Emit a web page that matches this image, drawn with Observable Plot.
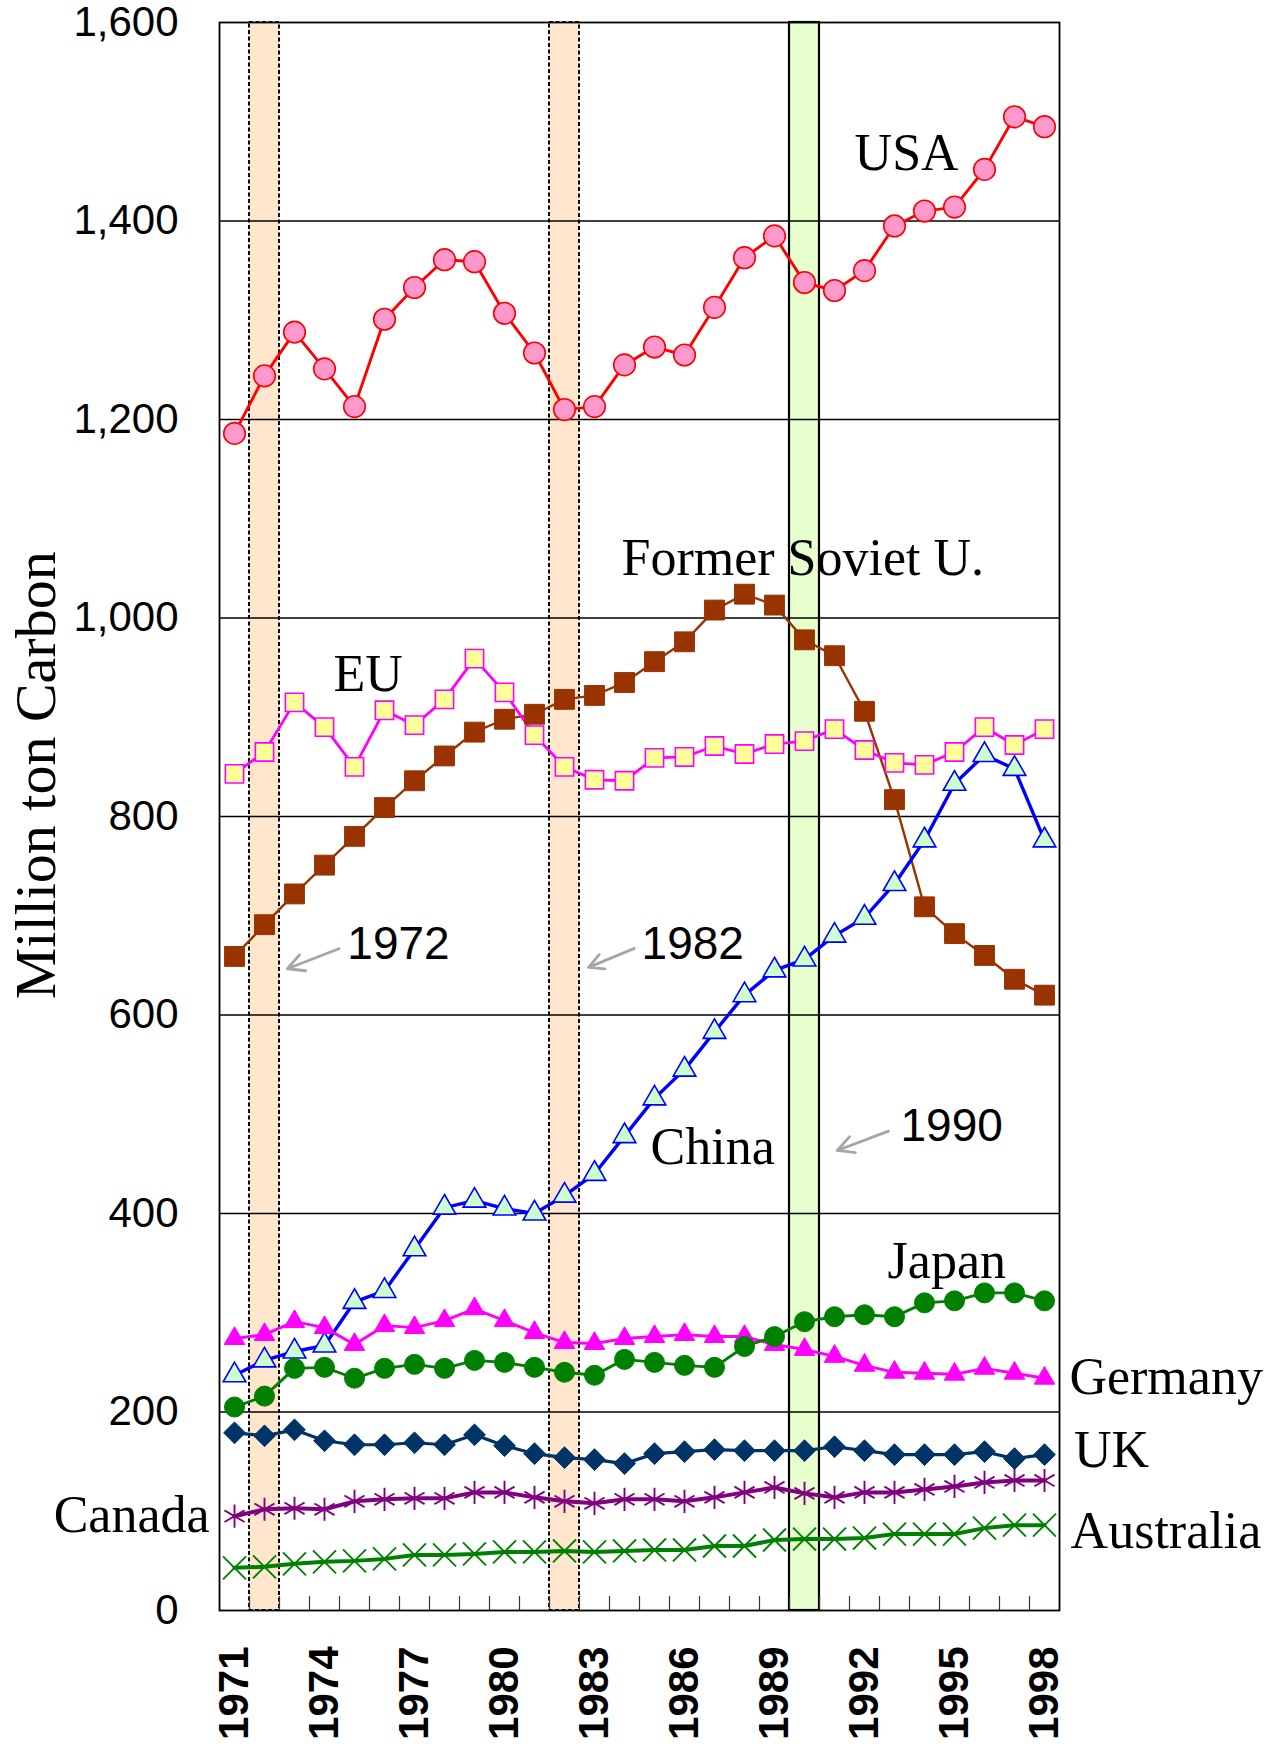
<!DOCTYPE html>
<html><head><meta charset="utf-8">
<script src="https://cdn.jsdelivr.net/npm/d3@7"></script>
<script src="https://cdn.jsdelivr.net/npm/@observablehq/plot@0.6"></script>
<style>body{margin:0;background:#fff}</style>
</head><body><div id="chart"></div>
<script>
// ---------- data ----------
const years = d3.range(1971, 1999);
const usa       = [1186,1244,1288,1251,1213,1301,1333,1361,1359,1307,1267,1210,1213,1255,1273,1265,1313,1363,1385,1338,1330,1350,1395,1410,1414,1452,1505,1495];
const fsu       = [659,691,722,751,780,809,836,861,885,898,903,918,922,935,956,976,1008,1024,1013,978,962,906,817,709,682,660,636,620];
const eu        = [843,865,915,890,850,907,892,918,959,925,882,850,837,836,859,860,871,863,873,876,888,867,854,852,865,890,872,888];
const china     = [237,252,261,267,311,322,364,406,413,405,400,418,440,478,516,545,583,620,645,656,680,698,732,776,833,862,848,776];
const germany   = [274,278,291,285,268,287,285,292,304,292,280,270,269,274,276,278,276,276,268,263,256,247,240,239,238,244,239,234];
const japan     = [205,216,244,245,234,244,248,244,252,250,245,240,237,253,250,247,245,266,276,291,296,298,296,310,312,320,320,312];
const uk        = [179,176,182,171,167,167,169,167,177,166,158,154,152,148,158,160,162,161,161,161,165,161,157,157,157,160,153,157];
const canada    = [95,102,103,102,110,112,113,113,119,119,114,110,108,112,112,110,114,119,124,118,114,119,119,122,125,129,131,131];
const australia = [43,44,47,49,50,52,56,56,57,59,59,60,59,60,61,61,65,65,71,72,72,73,77,77,77,83,86,86];

const yTicks = [0,200,400,600,800,1000,1200,1400,1600];
const xTickLabels = [1971,1974,1977,1980,1983,1986,1989,1992,1995,1998];
const shockYears = [1972, 1982];
const kyotoYears = [1990];

// label anchors (data space: year, value)
const seriesLabels = [
  {text: "USA", year: 1991.67, value: 1451, anchor: "start"},
  {text: "Former Soviet U.", year: 1983.9, value: 1043, anchor: "start"},
  {text: "EU", year: 1974.3, value: 926, anchor: "start"},
  {text: "China", year: 1984.87, value: 449.5, anchor: "start"},
  {text: "Japan", year: 1992.77, value: 335, anchor: "start"},
  {text: "Germany", year: 1998.83, value: 218.6, anchor: "start"},
  {text: "UK", year: 1998.98, value: 144.4, anchor: "start"},
  {text: "Canada", year: 1970.17, value: 78.6, anchor: "end"},
  {text: "Australia", year: 1998.87, value: 62.5, anchor: "start"}
];
const yearNotes = [
  {text: "1972", year: 1974.76, value: 656.8},
  {text: "1982", year: 1984.57, value: 656.6},
  {text: "1990", year: 1993.2, value: 472.6}
];
const noteArrows = [
  {x1: 1974.48, y1: 666.8, x2: 1972.76, y2: 646.6},
  {x1: 1984.33, y1: 667.1, x2: 1982.8, y2: 648.0},
  {x1: 1992.8, y1: 483.0, x2: 1991.09, y2: 463.5}
];

// ---------- styles ----------
const series = [
  {name: "FSU", values: fsu, line: "#993300", lw: 2.4, symbol: "square", r: 11.2, fill: "#993300", stroke: "#993300", sw: 1},
  {name: "EU", values: eu, line: "#FF00FF", lw: 2.8, symbol: "square", r: 10.3, fill: "#FFFF99", stroke: "#FF00FF", sw: 1.6},
  {name: "USA", values: usa, line: "#FF0000", lw: 2.9, symbol: "circle", r: 10.8, fill: "#FF99CC", stroke: "#FF0000", sw: 1.6},
  {name: "China", values: china, line: "#0000FF", lw: 3.4, symbol: "triangle", r: 8.4, fill: "#CCFFCC", stroke: "#0000FF", sw: 1.6},
  {name: "Germany", values: germany, line: "#FF00FF", lw: 2.9, symbol: "triangle", r: 7.6, fill: "#FF00FF", stroke: "#FF00FF", sw: 1},
  {name: "Japan", values: japan, line: "#008000", lw: 2.9, symbol: "circle", r: 10, fill: "#008000", stroke: "#008000", sw: 1},
  {name: "UK", values: uk, line: "#003366", lw: 3.2, symbol: "diamond2", r: 9.8, fill: "#003366", stroke: "#003366", sw: 1},
  {name: "Canada", values: canada, line: "#800080", lw: 4, symbol: "asterisk", r: 11, fill: "none", stroke: "#800080", sw: 1.9},
  {name: "Australia", values: australia, line: "#008000", lw: 4, symbol: "times", r: 10.5, fill: "none", stroke: "#008000", sw: 1.9}
];

const W = 1285, H = 1744;
const mL = 219, mR = 226, mT = 22, mB = 134;
const yMax = yTicks[yTicks.length - 1];
const pxPerUnit = (H - mT - mB) / yMax;
const tickLen = 14 / pxPerUnit;
const halfYears = d3.range(years[0] + 0.5, years[years.length - 1], 1);

const sans = "'Liberation Sans', Arial, Helvetica, sans-serif";
const serif = "'Liberation Serif', 'Times New Roman', serif";

const marks = [];
// shaded years
marks.push(Plot.rect(shockYears, {x1: d => d - 0.5, x2: d => d + 0.5, y1: 0, y2: yMax, fill: "#FFE6CC"}));
marks.push(Plot.rect(kyotoYears, {x1: d => d - 0.5, x2: d => d + 0.5, y1: 0, y2: yMax, fill: "#E6FFCC"}));
// grid
marks.push(Plot.ruleY(yTicks.slice(1, -1), {stroke: "#000", strokeWidth: 1.4}));
// band borders
marks.push(Plot.rect(shockYears, {x1: d => d - 0.5, x2: d => d + 0.5, y1: 0, y2: yMax, fill: "none", stroke: "#000", strokeWidth: 2, strokeDasharray: "4,2.5"}));
marks.push(Plot.rect(kyotoYears, {x1: d => d - 0.5, x2: d => d + 0.5, y1: 0, y2: yMax, fill: "none", stroke: "#000", strokeWidth: 2.2}));
// inner ticks at bottom
marks.push(Plot.ruleX(halfYears, {y1: 0, y2: tickLen, stroke: "#333", strokeWidth: 1.2}));
marks.push(Plot.frame({stroke: "#000", strokeWidth: 1.8}));

// series
for (const s of series) {
  const data = years.map((yr, i) => ({year: yr, value: s.values[i]}));
  marks.push(Plot.line(data, {x: "year", y: "value", stroke: s.line, strokeWidth: s.lw}));
}
for (const s of series) {
  const data = years.map((yr, i) => ({year: yr, value: s.values[i]}));
  marks.push(Plot.dot(data, {x: "year", y: "value", symbol: () => s.symbol, r: s.r, fill: s.fill, stroke: s.stroke, strokeWidth: s.sw}));
}

// labels
marks.push(Plot.text(seriesLabels.filter(d => d.anchor === "start"), {x: "year", y: "value", text: "text", textAnchor: "start", lineAnchor: "bottom", fontSize: 52, fontFamily: serif, fill: "#000"}));
marks.push(Plot.text(seriesLabels.filter(d => d.anchor === "end"), {x: "year", y: "value", text: "text", textAnchor: "end", lineAnchor: "bottom", fontSize: 52, fontFamily: serif, fill: "#000"}));
marks.push(Plot.text(yearNotes, {x: "year", y: "value", text: "text", textAnchor: "start", lineAnchor: "bottom", fontSize: 46, fontFamily: sans, fill: "#000"}));
marks.push(Plot.arrow(noteArrows, {x1: "x1", y1: "y1", x2: "x2", y2: "y2", stroke: "#A6A6A6", strokeWidth: 2.8, headLength: 15, headAngle: 55}));

// axes
marks.push(Plot.axisY({ticks: yTicks, tickSize: 0, tickPadding: 41, tickFormat: d3.format(","), fontSize: 42, fontFamily: sans, label: null}));
marks.push(Plot.axisX({ticks: xTickLabels, tickSize: 0, tickPadding: 36, tickRotate: -90, tickFormat: d => String(d), fontSize: 42, fontWeight: "bold", fontFamily: sans, label: null}));
// y title
marks.push(Plot.text(["Million ton Carbon"], {frameAnchor: "left", y: () => 841.5, dx: -183, rotate: -90, textAnchor: "middle", lineAnchor: "middle", fontSize: 58, fontFamily: serif, fill: "#000"}));

const chart = Plot.plot({
  width: W, height: H,
  marginLeft: mL, marginRight: mR, marginTop: mT, marginBottom: mB,
  x: {type: "linear", domain: [years[0] - 0.5, years[years.length - 1] + 0.5]},
  y: {domain: [0, yMax]},
  style: {background: "#fff", color: "#000", overflow: "visible"},
  marks
});
document.getElementById("chart").appendChild(chart);
</script></body></html>
